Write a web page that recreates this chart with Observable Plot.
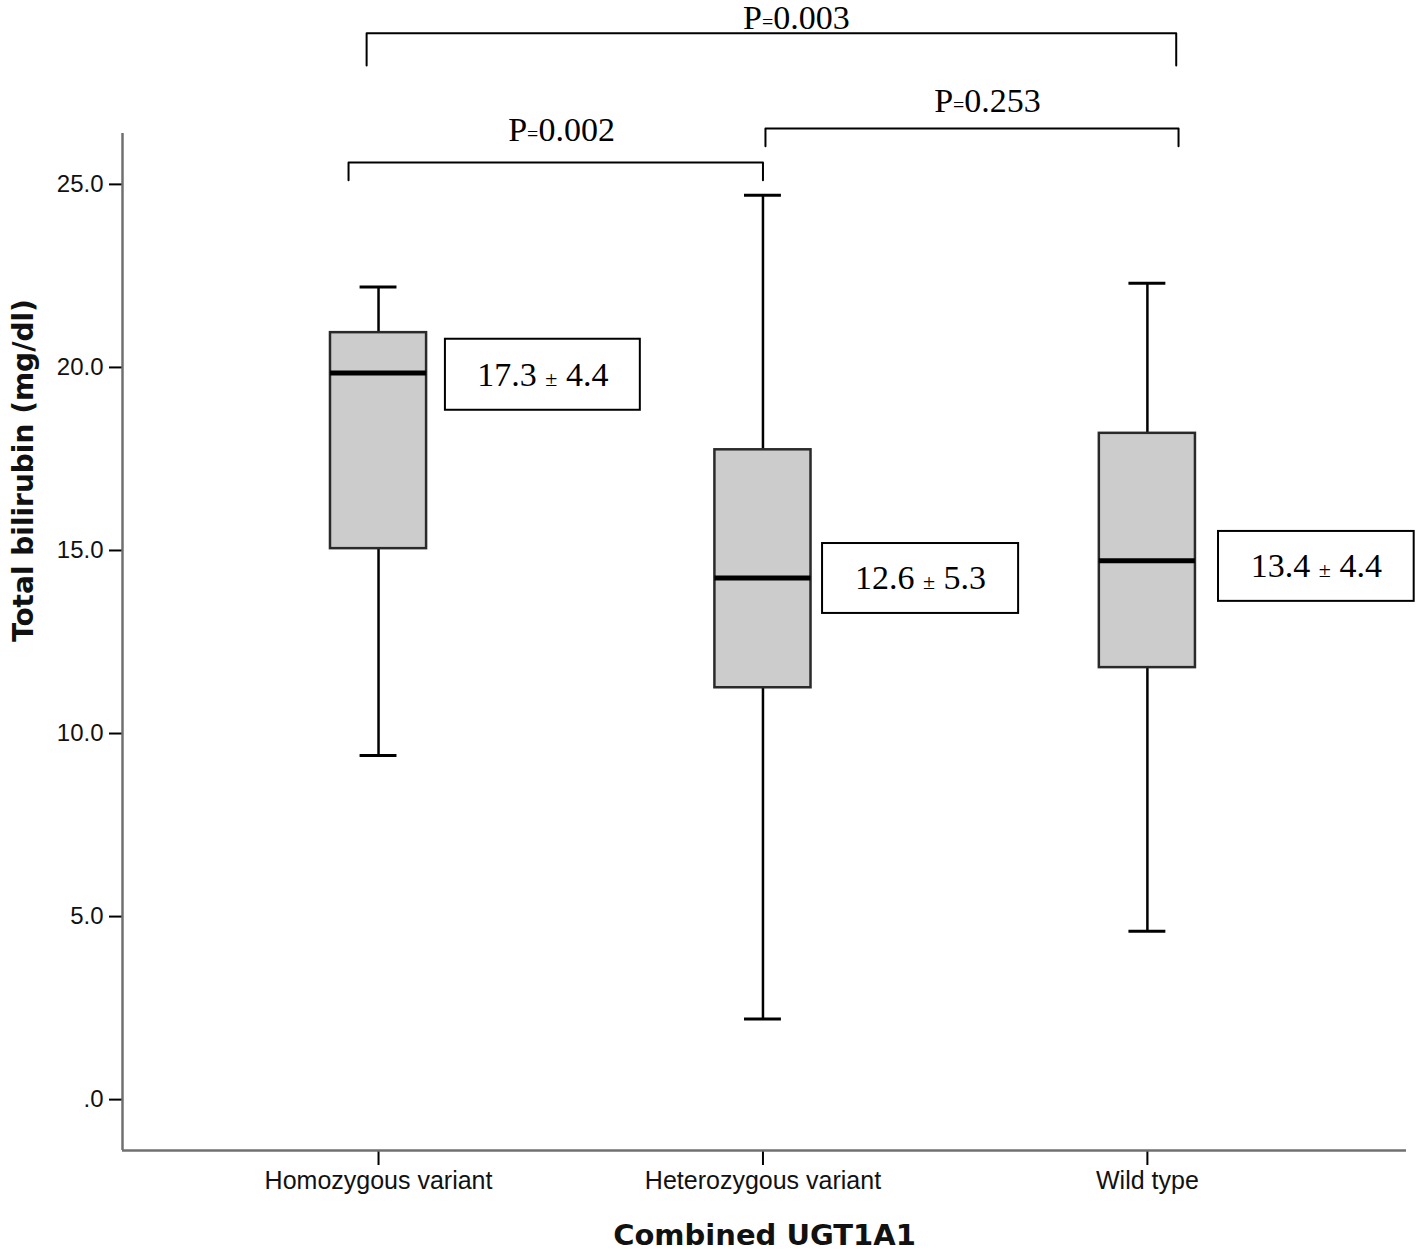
<!DOCTYPE html>
<html>
<head>
<meta charset="utf-8">
<script src="https://cdn.jsdelivr.net/npm/d3@7"></script>
<script src="https://cdn.jsdelivr.net/npm/@observablehq/plot@0.6"></script>
<style>
  html, body { margin: 0; padding: 0; background: #fff; }
  #chart svg { display: block; }
</style>
</head>
<body>
<div id="chart"></div>
<script>
// ---- Data ----
const categories   = ["Homozygous variant", "Heterozygous variant", "Wild type"];
const whiskerLow   = [9.4, 2.2, 4.6];
const quartile1    = [15.05, 11.25, 11.8];
const medians      = [19.85, 14.25, 14.72];
const quartile3    = [20.95, 17.75, 18.2];
const whiskerHigh  = [22.2, 24.7, 22.3];

const meanSdLabels = ["17.3 ± 4.4", "12.6 ± 5.3", "13.4 ± 4.4"];
const labelLeft    = [0.174, 1.155, 2.185];
const labelRight   = [0.681, 1.665, 2.694];
const labelTop     = [20.77, 15.19, 15.52];
const labelBottom  = [18.83, 13.28, 13.61];

const pLabels      = ["P=0.002", "P=0.253", "P=0.003"];
const bracketLeft  = [-0.078, 1.0065, -0.031];
const bracketRight = [1.0, 2.081, 2.075];
const bracketTop   = [25.60, 26.53, 29.13];
const bracketDrop  = [25.11, 26.04, 28.25];
const pTextX       = [0.476, 1.584, 1.087];
const pTextY       = [26.48, 27.27, 29.55];

const yTicks = [0, 5, 10, 15, 20, 25];
const xDomain = [-0.666, 2.674];
const yDomain = [-1.39, 26.39];

// ---- Tables built from the arrays ----
const boxes = categories.map((c, i) => ({
  i, c, lo: whiskerLow[i], q1: quartile1[i], med: medians[i], q3: quartile3[i], hi: whiskerHigh[i]
}));
const labels = meanSdLabels.map((t, i) => ({
  t, x1: labelLeft[i], x2: labelRight[i], y1: labelBottom[i], y2: labelTop[i]
}));
const bracketPts = [];
pLabels.forEach((p, k) => {
  bracketPts.push({k, x: bracketLeft[k], y: bracketDrop[k]});
  bracketPts.push({k, x: bracketLeft[k], y: bracketTop[k]});
  bracketPts.push({k, x: bracketRight[k], y: bracketTop[k]});
  bracketPts.push({k, x: bracketRight[k], y: bracketDrop[k]});
});
const pTexts = pLabels.map((t, k) => ({t, x: pTextX[k], y: pTextY[k]}));

const boxHalf = 0.125;
const capHalf = 0.048;
const serif = "Liberation Serif, Times New Roman, serif";
const sans = "Liberation Sans, Arial, sans-serif";

const chart = Plot.plot({
  width: 1416,
  height: 1252,
  marginLeft: 122,
  marginRight: 10,
  marginTop: 133,
  marginBottom: 102,
  style: {background: "#fff", fontFamily: sans, fontSize: "24px", overflow: "visible"},
  x: {type: "linear", domain: xDomain, axis: null},
  y: {type: "linear", domain: yDomain, axis: null},
  marks: [
    // axes
    Plot.axisY(yTicks, {
      tickFormat: d => d === 0 ? ".0" : d.toFixed(1),
      tickSize: 13, tickPadding: 6, fontSize: 24, fontFamily: sans,
      stroke: "#000", strokeWidth: 2, fill: "#111", label: null
    }),
    Plot.axisX([0, 1, 2], {
      tickFormat: i => categories[i],
      tickSize: 15, tickPadding: 6, fontSize: 25, fontFamily: sans,
      stroke: "#000", strokeWidth: 2, fill: "#111", label: null
    }),
    Plot.ruleX([xDomain[0]], {stroke: "#707070", strokeWidth: 2.5}),
    Plot.ruleY([yDomain[0]], {stroke: "#707070", strokeWidth: 2.5}),
    // whiskers
    Plot.ruleX(boxes, {x: "i", y1: "q3", y2: "hi", stroke: "#000", strokeWidth: 2.5}),
    Plot.ruleX(boxes, {x: "i", y1: "lo", y2: "q1", stroke: "#000", strokeWidth: 2.5}),
    Plot.ruleY(boxes, {y: "hi", x1: d => d.i - capHalf, x2: d => d.i + capHalf, stroke: "#000", strokeWidth: 3}),
    Plot.ruleY(boxes, {y: "lo", x1: d => d.i - capHalf, x2: d => d.i + capHalf, stroke: "#000", strokeWidth: 3}),
    // boxes
    Plot.rect(boxes, {
      x1: d => d.i - boxHalf, x2: d => d.i + boxHalf, y1: "q1", y2: "q3",
      fill: "#cccccc", stroke: "#2a2a2a", strokeWidth: 2.5
    }),
    Plot.ruleY(boxes, {y: "med", x1: d => d.i - boxHalf, x2: d => d.i + boxHalf, stroke: "#000", strokeWidth: 5}),
    // mean ± SD label boxes
    Plot.rect(labels, {x1: "x1", x2: "x2", y1: "y1", y2: "y2", fill: "#fff", stroke: "#000", strokeWidth: 2}),
    Plot.text(labels, {
      x: d => (d.x1 + d.x2) / 2, y: d => (d.y1 + d.y2) / 2, text: "t",
      fontFamily: serif, fontSize: 34, fill: "#000"
    }),
    // significance brackets
    Plot.line(bracketPts, {x: "x", y: "y", z: "k", stroke: "#000", strokeWidth: 2, curve: "linear"}),
    Plot.text(pTexts, {x: "x", y: "y", text: "t", fontFamily: serif, fontSize: 34, fill: "#000"}),
    // axis titles
    Plot.text(["Total bilirubin (mg/dl)"], {
      frameAnchor: "left", dx: -98, rotate: -90,
      fontFamily: "DejaVu Sans, sans-serif", fontWeight: "bold", fontSize: 28, fill: "#111"
    }),
    Plot.text(["Combined UGT1A1"], {
      frameAnchor: "bottom", dy: 94,
      fontFamily: "DejaVu Sans, sans-serif", fontWeight: "bold", fontSize: 29, fill: "#111"
    })
  ]
});

// Small "±" and "=" glyphs, as in the reference
d3.select(chart).selectAll("text").each(function () {
  const el = d3.select(this);
  const s = this.textContent;
  if (this.childElementCount > 0) return;
  const m = s.match(/^(.*?)([±=])(.*)$/);
  if (!m) return;
  el.text(null);
  el.append("tspan").text(m[1]);
  el.append("tspan").attr("font-size", m[2] === "±" ? 22 : 20).text(m[2]);
  el.append("tspan").text(m[3]);
});

document.getElementById("chart").appendChild(chart);
</script>
</body>
</html>
